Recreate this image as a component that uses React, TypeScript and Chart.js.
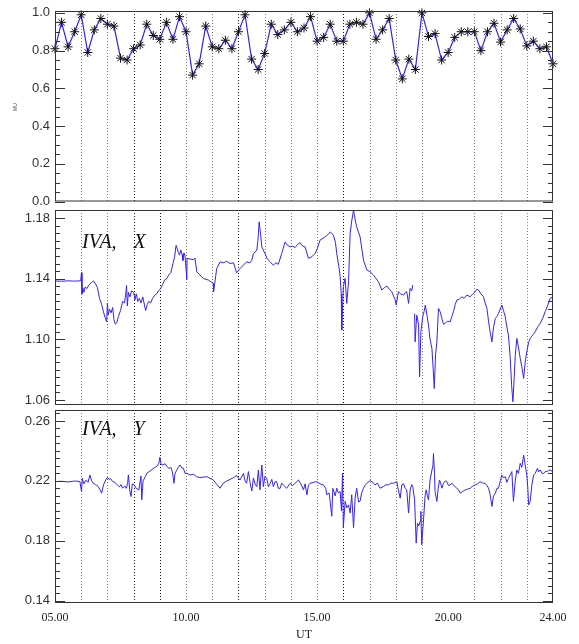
import React, { useEffect, useRef } from 'react';
import { Chart, registerables } from 'chart.js';

Chart.register(...registerables);

// ---------- axis / category data ----------
const X_MIN = 5;
const X_MAX = 24;
const xTickValues = [5, 10, 15, 20, 24];
const guideHours = [6, 7, 8, 9, 10, 11, 12, 13, 14, 15, 16, 17, 18, 19, 21, 22, 23];
const guideDarkHours = [8, 9, 12, 16];

const topYTicks = [0, 0.2, 0.4, 0.6, 0.8, 1.0];
const midYTicks = [1.06, 1.1, 1.14, 1.18];
const lowYTicks = [0.14, 0.18, 0.22, 0.26];

// ---------- top panel (15-min samples) ----------
const topTimes = [
  5.0, 5.25, 5.5, 5.75, 6.0, 6.25, 6.5, 6.75, 7.0, 7.25, 7.5, 7.75, 8.0, 8.25, 8.5, 8.75,
  9.0, 9.25, 9.5, 9.75, 10.0, 10.25, 10.5, 10.75, 11.0, 11.25, 11.5, 11.75, 12.0, 12.25, 12.5, 12.75,
  13.0, 13.25, 13.5, 13.75, 14.0, 14.25, 14.5, 14.75, 15.0, 15.25, 15.5, 15.75, 16.0, 16.25, 16.5, 16.75,
  17.0, 17.25, 17.5, 17.75, 18.0, 18.25, 18.5, 18.75, 19.0, 19.25, 19.5, 19.75, 20.0, 20.25, 20.5, 20.75,
  21.0, 21.25, 21.5, 21.75, 22.0, 22.25, 22.5, 22.75, 23.0, 23.25, 23.5, 23.75, 24.0,
];
const topValues = [
  0.81, 0.95, 0.82, 0.9, 0.99, 0.79, 0.91, 0.97, 0.94, 0.93, 0.76, 0.75, 0.81, 0.83, 0.94, 0.88,
  0.86, 0.95, 0.86, 0.98, 0.9, 0.67, 0.73, 0.93, 0.82, 0.81, 0.855, 0.81, 0.9, 0.99, 0.755, 0.7,
  0.785, 0.94, 0.885, 0.91, 0.95, 0.9, 0.92, 0.98, 0.85, 0.87, 0.94, 0.85, 0.85, 0.94, 0.95, 0.94,
  1.0, 0.86, 0.91, 0.97, 0.75, 0.65, 0.755, 0.7, 1.0, 0.875, 0.89, 0.75, 0.79, 0.87, 0.9, 0.9,
  0.9, 0.8, 0.9, 0.945, 0.845, 0.91, 0.97, 0.915, 0.825, 0.85, 0.81, 0.82, 0.73,
];

// ---------- middle panel: IVA, X ----------
const midTimes = [
  5.0, 5.25, 5.5, 5.75, 5.98, 6.01, 6.03, 6.06, 6.1, 6.15, 6.22, 6.3, 6.4, 6.47, 6.55, 6.62,
  6.7, 6.78, 6.85, 6.92, 6.97, 7.0, 7.03, 7.08, 7.14, 7.2, 7.25, 7.3, 7.36, 7.42, 7.5, 7.58,
  7.65, 7.7, 7.73, 7.76, 7.8, 7.86, 7.92, 8.0, 8.05, 8.1, 8.16, 8.22, 8.28, 8.35, 8.42, 8.46,
  8.52, 8.58, 8.65, 8.72, 8.8, 8.88, 8.95, 9.03, 9.1, 9.18, 9.26, 9.34, 9.42, 9.5, 9.56, 9.62,
  9.66, 9.7, 9.75, 9.8, 9.85, 9.88, 9.92, 9.96, 10.03, 10.04, 10.15, 10.28, 10.34, 10.41, 10.53, 10.66,
  10.85, 11.04, 11.05, 11.17, 11.3, 11.42, 11.55, 11.68, 11.81, 11.93, 12.06, 12.19, 12.31, 12.44, 12.51, 12.57,
  12.7, 12.74, 12.79, 12.84, 12.89, 13.01, 13.1, 13.21, 13.33, 13.43, 13.52, 13.65, 13.78, 13.87, 13.97, 14.07,
  14.16, 14.25, 14.35, 14.45, 14.54, 14.67, 14.8, 14.92, 15.01, 15.11, 15.31, 15.41, 15.5, 15.62, 15.7, 15.75,
  15.83, 15.88, 15.92, 15.94, 15.98, 16.0, 16.07, 16.13, 16.2, 16.26, 16.32, 16.39, 16.45, 16.51, 16.64, 16.77,
  16.9, 17.02, 17.15, 17.34, 17.47, 17.56, 17.66, 17.76, 17.85, 17.98, 18.02, 18.1, 18.19, 18.3, 18.37, 18.42,
  18.49, 18.55, 18.61, 18.65, 18.68, 18.72, 18.74, 18.8, 18.87, 18.91, 18.96, 19.03, 19.08, 19.13, 19.19, 19.25,
  19.31, 19.38, 19.43, 19.47, 19.52, 19.57, 19.63, 19.7, 19.76, 19.82, 19.89, 19.97, 20.08, 20.14, 20.2, 20.27,
  20.33, 20.43, 20.52, 20.61, 20.71, 20.84, 20.94, 21.03, 21.09, 21.16, 21.25, 21.35, 21.41, 21.48, 21.54, 21.6,
  21.67, 21.73, 21.8, 21.86, 21.92, 21.99, 22.05, 22.11, 22.18, 22.24, 22.3, 22.37, 22.42, 22.47, 22.52, 22.56,
  22.62, 22.68, 22.75, 22.81, 22.88, 22.94, 23.0, 23.07, 23.13, 23.23, 23.32, 23.41, 23.51, 23.61, 23.7, 23.79,
  23.89, 24.0,
];
const midValues = [
  1.1385, 1.1383, 1.1386, 1.1384, 1.1386, 1.144, 1.13, 1.134, 1.131, 1.1345, 1.1335, 1.136, 1.1375, 1.1385, 1.1365, 1.134,
  1.127, 1.123, 1.118, 1.114, 1.1115, 1.124, 1.116, 1.12, 1.1175, 1.121, 1.113, 1.11, 1.111, 1.115, 1.119, 1.125,
  1.124, 1.13, 1.1355, 1.122, 1.131, 1.128, 1.132, 1.131, 1.126, 1.13, 1.125, 1.127, 1.124, 1.128, 1.122, 1.119,
  1.123, 1.125, 1.124, 1.127, 1.129, 1.13, 1.132, 1.1335, 1.136, 1.139, 1.14, 1.1425, 1.144, 1.15, 1.154, 1.162,
  1.16, 1.1575, 1.1555, 1.159, 1.156, 1.152, 1.157, 1.155, 1.1394, 1.1534, 1.153, 1.1525, 1.1535, 1.1446, 1.1424, 1.1402,
  1.1391, 1.1369, 1.1314, 1.1467, 1.1511, 1.1505, 1.1515, 1.15, 1.1505, 1.1439, 1.1467, 1.149, 1.1511, 1.1505, 1.1522, 1.1566,
  1.1588, 1.165, 1.1775, 1.17, 1.161, 1.1566, 1.153, 1.1511, 1.1489, 1.1505, 1.1495, 1.1566, 1.1643, 1.162, 1.161, 1.1615,
  1.1605, 1.1625, 1.1637, 1.1615, 1.161, 1.1534, 1.1545, 1.1566, 1.16, 1.1654, 1.1676, 1.169, 1.1709, 1.1687, 1.164, 1.1566,
  1.148, 1.1413, 1.13, 1.1061, 1.125, 1.1347, 1.1402, 1.1237, 1.138, 1.1698, 1.178, 1.1852, 1.179, 1.1742, 1.1676, 1.1522,
  1.1457, 1.1446, 1.1424, 1.138, 1.1325, 1.134, 1.1352, 1.133, 1.1314, 1.126, 1.1226, 1.1314, 1.13, 1.1292, 1.131, 1.1314,
  1.1237, 1.1336, 1.132, 1.1358, null, 1.117, 1.0983, 1.116, 1.11, 1.0753, 1.105, 1.115, 1.1182, 1.1226, 1.116, 1.1094,
  1.1, 1.094, 1.08, 1.0676, 1.09, 1.0983, 1.1204, 1.118, 1.1138, 1.11, 1.1105, 1.112, 1.1116, 1.115, 1.1182, 1.123,
  1.1259, 1.1265, 1.1281, 1.127, 1.1292, 1.1281, 1.13, 1.1314, 1.133, 1.1325, 1.13, 1.1281, 1.124, 1.1204, 1.112, 1.105,
  1.0983, 1.108, 1.1138, 1.115, 1.1171, 1.12, 1.1226, 1.119, 1.1149, 1.108, 1.1028, 1.0874, 1.07, 1.0588, 1.075, 1.0896,
  1.1006, 1.095, 1.0874, 1.082, 1.0742, 1.085, 1.0918, 1.098, 1.1006, 1.103, 1.105, 1.108, 1.1105, 1.114, 1.1182, 1.122,
  1.127, 1.1281,
];

// ---------- bottom panel: IVA, Y ----------
const lowTimes = [
  5.0, 5.25, 5.5, 5.75, 5.95, 6.01, 6.04, 6.1, 6.18, 6.26, 6.33, 6.4, 6.46, 6.55, 6.65, 6.72,
  6.78, 6.85, 6.92, 7.0, 7.06, 7.12, 7.2, 7.28, 7.38, 7.46, 7.52, 7.58, 7.66, 7.72, 7.77, 7.8,
  7.85, 7.9, 7.95, 8.02, 8.1, 8.2, 8.28, 8.31, 8.36, 8.45, 8.5, 8.58, 8.66, 8.75, 8.82, 8.9,
  8.96, 9.0, 9.05, 9.12, 9.2, 9.28, 9.34, 9.42, 9.48, 9.54, 9.58, 9.64, 9.7, 9.77, 9.85, 9.9,
  9.96, 10.03, 10.16, 10.29, 10.4, 10.53, 10.79, 11.04, 11.17, 11.3, 11.42, 11.55, 11.68, 11.81, 11.93, 12.06,
  12.19, 12.25, 12.31, 12.38, 12.44, 12.51, 12.57, 12.63, 12.7, 12.76, 12.82, 12.89, 12.95, 13.01, 13.08, 13.14,
  13.21, 13.27, 13.33, 13.4, 13.46, 13.52, 13.59, 13.65, 13.71, 13.84, 13.97, 14.07, 14.16, 14.29, 14.38, 14.48,
  14.54, 14.61, 14.67, 14.73, 14.86, 14.99, 15.11, 15.24, 15.33, 15.37, 15.46, 15.56, 15.6, 15.62, 15.69, 15.75,
  15.81, 15.88, 15.93, 15.97, 16.0, 16.07, 16.13, 16.2, 16.26, 16.32, 16.39, 16.45, 16.51, 16.58, 16.64, 16.7,
  16.77, 16.83, 16.9, 17.02, 17.13, 17.21, 17.3, 17.4, 17.53, 17.63, 17.72, 17.81, 17.91, 18.04, 18.1, 18.17,
  18.23, 18.3, 18.36, 18.42, 18.49, 18.55, 18.61, 18.65, 18.72, 18.78, 18.83, 18.88, 18.93, 18.96, 18.99, 19.06,
  19.12, 19.16, 19.21, 19.25, 19.31, 19.38, 19.42, 19.44, 19.48, 19.5, 19.57, 19.62, 19.67, 19.72, 19.76, 19.82,
  19.89, 19.95, 20.01, 20.08, 20.14, 20.2, 20.27, 20.33, 20.4, 20.46, 20.56, 20.65, 20.74, 20.84, 20.94, 21.03,
  21.12, 21.22, 21.32, 21.41, 21.48, 21.54, 21.6, 21.67, 21.73, 21.8, 21.86, 21.92, 21.99, 22.05, 22.11, 22.18,
  22.24, 22.3, 22.37, 22.43, 22.49, 22.56, 22.62, 22.68, 22.75, 22.81, 22.88, 22.91, 22.94, 23.0, 23.04, 23.07,
  23.13, 23.19, 23.26, 23.32, 23.41, 23.45, 23.51, 23.58, 23.64, 23.7, 23.77, 23.83, 23.89, 23.96, 24.0,
];
const lowValues = [
  0.2195, 0.2197, 0.2193, 0.2199, 0.2196, 0.2129, 0.2217, 0.218, 0.2205, 0.219, 0.2239, 0.22, 0.2184, 0.2175, 0.2162, 0.214,
  0.2118, 0.2173, 0.22, 0.2224, 0.221, 0.2215, 0.2195, 0.219, 0.2173, 0.216, 0.2175, 0.2151, 0.2165, 0.215, 0.2184, 0.224,
  0.214, 0.2096, 0.218, 0.2173, 0.215, 0.214, 0.2232, 0.2074, 0.22, 0.223, 0.225, 0.226, 0.227, 0.2283, 0.229, 0.23,
  0.2317, 0.2357, 0.231, 0.2306, 0.2315, 0.2295, 0.2283, 0.229, 0.226, 0.2184, 0.225, 0.227, 0.229, 0.2306, 0.2285, 0.2284,
  0.225, 0.225, 0.2239, 0.2245, 0.2228, 0.2222, 0.2228, 0.2206, 0.2177, 0.2151, 0.2185, 0.2199, 0.221, 0.2222, 0.2235, 0.2206,
  0.225, 0.22, 0.2184, 0.2262, 0.219, 0.2133, 0.222, 0.218, 0.2162, 0.2272, 0.214, 0.2306, 0.2162, 0.223, 0.2217, 0.216,
  0.2184, 0.221, 0.2162, 0.2195, 0.2195, 0.215, 0.2151, 0.2185, 0.2173, 0.2151, 0.2184, 0.217, 0.2184, 0.2206, 0.218, 0.214,
  0.218, 0.2107, 0.217, 0.2184, 0.219, 0.2195, 0.218, 0.2173, 0.215, 0.2107, 0.212, 0.1964, 0.215, 0.214, 0.21, 0.2151,
  0.212, 0.2129, 0.2, 0.2251, 0.1888, 0.2064, 0.202, 0.204, 0.1986, 0.2107, 0.1888, 0.2085, 0.2151, 0.206, 0.2064, 0.212,
  0.2151, 0.217, 0.2184, 0.2202, 0.219, 0.2173, 0.2185, 0.2151, 0.2162, 0.2175, 0.2173, 0.2185, 0.2184, 0.2195, 0.214, 0.2084,
  0.2173, 0.218, 0.2151, 0.214, 0.1986, 0.214, 0.2175, 0.2162, 0.2074, 0.1785, 0.1918, 0.19, 0.193, 0.1997, 0.1774, 0.194,
  0.21, 0.214, 0.21, 0.2073, 0.2206, 0.2272, 0.23, 0.2382, 0.225, 0.2129, 0.2063, 0.215, 0.2206, 0.218, 0.2151, 0.2184,
  0.22, 0.2195, 0.217, 0.2173, 0.2185, 0.2173, 0.216, 0.2151, 0.214, 0.2118, 0.213, 0.214, 0.2145, 0.2151, 0.2165, 0.2173,
  0.218, 0.2195, 0.2185, 0.2184, 0.217, 0.2151, 0.211, 0.2029, 0.21, 0.2118, 0.215, 0.2151, 0.22, 0.2239, 0.222, 0.2228,
  0.219, 0.2217, 0.224, 0.2262, 0.2063, 0.22, 0.2273, 0.225, 0.2317, 0.229, 0.2372, 0.234, 0.2306, 0.2239, 0.215, 0.204,
  0.2063, 0.217, 0.2239, 0.225, 0.2284, 0.226, 0.2273, 0.225, 0.225, 0.2262, 0.2262, 0.227, 0.2273, 0.2265, 0.2262,
];

// ---------- styling ----------
const LINE_BLUE = '#3a1ff2';
const FRAME = '#333333';
const LABEL_FONT = 'Liberation Sans';
const SERIF = 'Liberation Serif';
const W = 579;

const framePlugin = {
  id: 'frame',
  beforeDatasetsDraw(chart: any) {
    const { ctx, chartArea } = chart;
    const xs = chart.scales.x;
    ctx.save();
    ctx.lineWidth = 1;
    ctx.setLineDash([1, 2]);
    for (const h of guideHours) {
      const px = Math.round(xs.getPixelForValue(h)) + 0.5;
      ctx.strokeStyle = guideDarkHours.includes(h) ? '#111111' : '#7a7a7a';
      ctx.beginPath();
      ctx.moveTo(px, chartArea.top);
      ctx.lineTo(px, chartArea.bottom);
      ctx.stroke();
    }
    ctx.restore();
  },
  afterDatasetsDraw(chart: any) {
    const { ctx, chartArea } = chart;
    const { left, right, top, bottom } = chartArea;
    const o = chart.options.plugins.frame;
    const ys = chart.scales.y;
    ctx.save();
    ctx.strokeStyle = FRAME;
    ctx.lineWidth = 1;
    ctx.setLineDash([]);
    ctx.strokeRect(left + 0.5, top + 0.5, right - left - 1, bottom - top - 1);
    const n = Math.round((o.minorEnd - o.minorStart) / o.minorStep);
    for (let k = 0; k <= n; k++) {
      const v = o.minorStart + k * o.minorStep;
      const major = o.majors.some((m: number) => Math.abs(m - v) < o.minorStep / 10);
      const len = major ? 10 : 5;
      const py = Math.round(ys.getPixelForValue(v)) + 0.5;
      if (py < top || py > bottom + 1) continue;
      ctx.beginPath();
      ctx.moveTo(left, py);
      ctx.lineTo(left + len, py);
      ctx.moveTo(right, py);
      ctx.lineTo(right - len, py);
      ctx.stroke();
    }
    ctx.restore();
  },
};

type PanelOpts = {
  times: number[];
  values: (number | null)[];
  yMin: number;
  yMax: number;
  yTicks: number[];
  decimals: number;
  minorStep: number;
  minorEnd: number;
  padTop: number;
  padBottom: number;
  showX: boolean;
  stars: boolean;
};

function panelConfig(p: PanelOpts): any {
  const data = p.times.map((t, i) => ({ x: t, y: p.values[i] }));
  return {
    type: 'line',
    data: {
      datasets: [
        {
          data,
          borderColor: LINE_BLUE,
          borderWidth: p.stars ? 1.2 : 1,
          pointRadius: p.stars ? 4.5 : 0,
          pointStyle: 'star',
          pointBorderColor: '#111111',
          pointBackgroundColor: '#111111',
          pointBorderWidth: 1,
          tension: 0,
          spanGaps: false,
          clip: p.stars ? 8 : 0,
        },
      ],
    },
    options: {
      animation: false,
      responsive: false,
      maintainAspectRatio: false,
      events: [],
      layout: { padding: { left: 0, right: 26, top: p.padTop, bottom: p.padBottom } },
      plugins: {
        legend: { display: false },
        tooltip: { enabled: false },
        frame: {
          minorStart: p.yTicks[0],
          minorEnd: p.minorEnd,
          minorStep: p.minorStep,
          majors: p.yTicks,
        },
      },
      scales: {
        x: {
          type: 'linear',
          min: X_MIN,
          max: X_MAX,
          display: p.showX,
          grid: { display: false, drawTicks: false },
          border: { display: false },
          afterBuildTicks: (s: any) => {
            s.ticks = xTickValues.map((v) => ({ value: v }));
          },
          afterFit: (s: any) => {
            s.height = p.showX ? 41 : 0;
            s.paddingLeft = 0;
            s.paddingRight = 0;
          },
          ticks: {
            autoSkip: false,
            maxRotation: 0,
            padding: 8,
            color: '#222222',
            font: { family: SERIF, size: 12 },
            callback: (v: any) => Number(v).toFixed(2).padStart(5, '0'),
          },
        },
        y: {
          type: 'linear',
          min: p.yMin,
          max: p.yMax,
          grid: { display: false, drawTicks: false },
          border: { display: false },
          afterBuildTicks: (s: any) => {
            s.ticks = p.yTicks.map((v) => ({ value: v }));
          },
          afterFit: (s: any) => {
            s.width = 55;
            s.paddingTop = 0;
            s.paddingBottom = 0;
          },
          ticks: {
            autoSkip: false,
            padding: 5,
            color: '#333333',
            font: { family: LABEL_FONT, size: 13 },
            callback: (v: any) => Number(v).toFixed(p.decimals),
          },
        },
      },
    },
    plugins: [framePlugin],
  };
}

export default function App() {
  const c1 = useRef<HTMLCanvasElement>(null);
  const c2 = useRef<HTMLCanvasElement>(null);
  const c3 = useRef<HTMLCanvasElement>(null);

  useEffect(() => {
    const charts: Chart[] = [];
    if (c1.current) {
      charts.push(
        new Chart(
          c1.current,
          panelConfig({
            times: topTimes,
            values: topValues,
            yMin: 0,
            yMax: 1.01,
            yTicks: topYTicks,
            decimals: 1,
            minorStep: 0.05,
            minorEnd: 1.0,
            padTop: 11,
            padBottom: 2,
            showX: false,
            stars: true,
          })
        )
      );
    }
    if (c2.current) {
      charts.push(
        new Chart(
          c2.current,
          panelConfig({
            times: midTimes,
            values: midValues,
            yMin: 1.0567,
            yMax: 1.1853,
            yTicks: midYTicks,
            decimals: 2,
            minorStep: 0.005,
            minorEnd: 1.185,
            padTop: 3,
            padBottom: 2,
            showX: false,
            stars: false,
          })
        )
      );
    }
    if (c3.current) {
      charts.push(
        new Chart(
          c3.current,
          panelConfig({
            times: lowTimes,
            values: lowValues,
            yMin: 0.1385,
            yMax: 0.2673,
            yTicks: lowYTicks,
            decimals: 2,
            minorStep: 0.005,
            minorEnd: 0.265,
            padTop: 3,
            padBottom: 0,
            showX: true,
            stars: false,
          })
        )
      );
    }
    return () => charts.forEach((c) => c.destroy());
  }, []);

  const ivaStyle: React.CSSProperties = {
    position: 'absolute',
    left: 82,
    fontFamily: SERIF,
    fontStyle: 'italic',
    fontSize: 20,
    lineHeight: '20px',
    wordSpacing: 12,
    whiteSpace: 'pre',
    color: '#111',
  };

  return (
    <div style={{ position: 'absolute', left: 0, top: 0, width: W, height: 644, background: '#fff', overflow: 'hidden' }}>
      <canvas ref={c1} width={W} height={207} style={{ position: 'absolute', left: 0, top: 0, display: 'block' }} />
      <canvas ref={c2} width={W} height={200} style={{ position: 'absolute', left: 0, top: 207, display: 'block' }} />
      <canvas ref={c3} width={W} height={237} style={{ position: 'absolute', left: 0, top: 407, display: 'block' }} />
      <div style={{ ...ivaStyle, top: 231 }}>IVA, X</div>
      <div style={{ ...ivaStyle, top: 418 }}>IVA, Y</div>
      <div
        style={{
          position: 'absolute',
          left: 284,
          top: 627,
          width: 40,
          textAlign: 'center',
          fontFamily: SERIF,
          fontSize: 12,
          lineHeight: '14px',
          color: '#222',
        }}
      >
        UT
      </div>
      <div
        style={{
          position: 'absolute',
          left: 8,
          top: 104,
          width: 14,
          textAlign: 'center',
          fontFamily: LABEL_FONT,
          fontSize: 5,
          lineHeight: '6px',
          color: '#444',
          transform: 'rotate(-90deg)',
        }}
      >
        MU
      </div>
    </div>
  );
}
